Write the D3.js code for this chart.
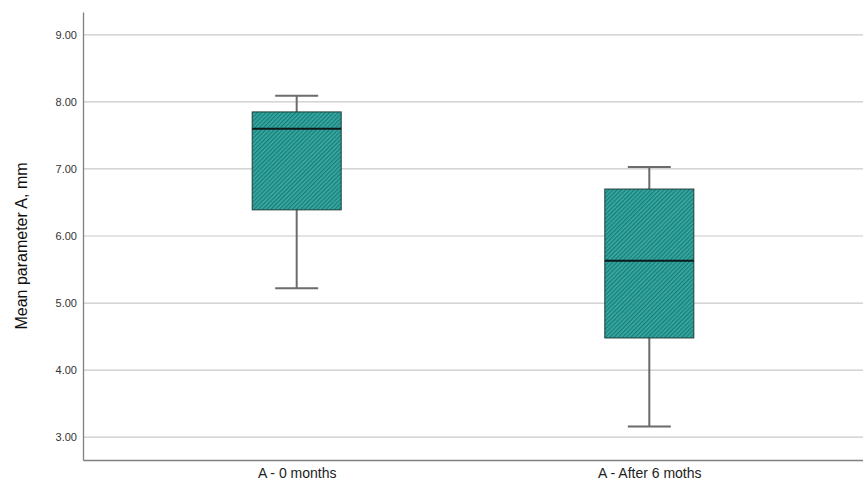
<!DOCTYPE html>
<html>
<head>
<meta charset="utf-8">
<script src="https://cdn.jsdelivr.net/npm/d3@7"></script>
<style>
  body { margin: 0; background: #fff; }
  text { font-family: "Liberation Sans", Arial, sans-serif; }
</style>
</head>
<body>
<svg id="chart" width="863" height="482"></svg>
<script>
var groups = ["A - 0 months", "A - After 6 moths"];
var whiskerLow = [5.22, 3.16];
var q1 = [6.39, 4.48];
var medians = [7.60, 5.63];
var q3 = [7.85, 6.70];
var whiskerHigh = [8.09, 7.03];
var yTicks = [3, 4, 5, 6, 7, 8, 9];

var plotLeft = 83, plotRight = 863, plotTop = 12, plotBottom = 460;

var svg = d3.select("#chart");

// hatch pattern for the boxes
var defs = svg.append("defs");
var pat = defs.append("pattern")
    .attr("id", "hatch")
    .attr("patternUnits", "userSpaceOnUse")
    .attr("width", 3)
    .attr("height", 3)
    .attr("patternTransform", "rotate(45)");
pat.append("rect")
    .attr("width", 3).attr("height", 3)
    .attr("fill", "#37aba4");
pat.append("rect")
    .attr("x", 0).attr("width", 1.3).attr("height", 3)
    .attr("fill", "#1a7c77");

var y = d3.scaleLinear().domain([2.66, 9.34]).range([plotBottom, plotTop]);
var x = d3.scalePoint().domain(groups).range([plotLeft, plotRight]).padding(0.606);
var boxWidth = 89;
var capWidth = 43;

// grid lines
svg.append("g").selectAll("line")
    .data(yTicks)
    .enter().append("line")
    .attr("x1", plotLeft)
    .attr("x2", plotRight)
    .attr("y1", function(d){ return y(d); })
    .attr("y2", function(d){ return y(d); })
    .attr("stroke", "#c9c9c9")
    .attr("stroke-width", 1.2);

// y axis
var yAxis = svg.append("g")
    .attr("transform", "translate(" + plotLeft + ",0)")
    .call(d3.axisLeft(y).tickValues(yTicks).tickSize(0).tickPadding(6).tickFormat(d3.format(".2f")));
yAxis.select(".domain").attr("stroke", "#808080").attr("stroke-width", 1.3);
yAxis.selectAll("text").attr("font-size", 11).attr("fill", "#333");

// x axis
var xAxis = svg.append("g")
    .attr("transform", "translate(0," + plotBottom + ")")
    .call(d3.axisBottom(x).tickSize(0).tickPadding(8));
xAxis.select(".domain").attr("stroke", "#808080").attr("stroke-width", 1.3);
xAxis.selectAll("text").attr("font-size", 14).attr("fill", "#222");

// y label
svg.append("text")
    .attr("transform", "translate(27,246) rotate(-90)")
    .attr("text-anchor", "middle")
    .attr("font-size", 16)
    .attr("fill", "#111")
    .text("Mean parameter A, mm");

var boxes = svg.append("g").selectAll("g")
    .data(groups)
    .enter().append("g");

// whisker stems
boxes.append("line")
    .attr("x1", function(d){ return x(d); })
    .attr("x2", function(d){ return x(d); })
    .attr("y1", function(d, i){ return y(whiskerLow[i]); })
    .attr("y2", function(d, i){ return y(whiskerHigh[i]); })
    .attr("stroke", "#6b6b6b")
    .attr("stroke-width", 2);

// caps
[whiskerLow, whiskerHigh].forEach(function(arr){
    boxes.append("line")
        .attr("x1", function(d){ return x(d) - capWidth / 2; })
        .attr("x2", function(d){ return x(d) + capWidth / 2; })
        .attr("y1", function(d, i){ return y(arr[i]); })
        .attr("y2", function(d, i){ return y(arr[i]); })
        .attr("stroke", "#6b6b6b")
        .attr("stroke-width", 2);
});

// boxes
boxes.append("rect")
    .attr("x", function(d){ return x(d) - boxWidth / 2; })
    .attr("width", boxWidth)
    .attr("y", function(d, i){ return y(q3[i]); })
    .attr("height", function(d, i){ return y(q1[i]) - y(q3[i]); })
    .attr("fill", "url(#hatch)")
    .attr("stroke", "#1d3d3b")
    .attr("stroke-width", 1);

// medians
boxes.append("line")
    .attr("x1", function(d){ return x(d) - boxWidth / 2; })
    .attr("x2", function(d){ return x(d) + boxWidth / 2; })
    .attr("y1", function(d, i){ return y(medians[i]); })
    .attr("y2", function(d, i){ return y(medians[i]); })
    .attr("stroke", "#0d1a1a")
    .attr("stroke-width", 2);
</script>
</body>
</html>
